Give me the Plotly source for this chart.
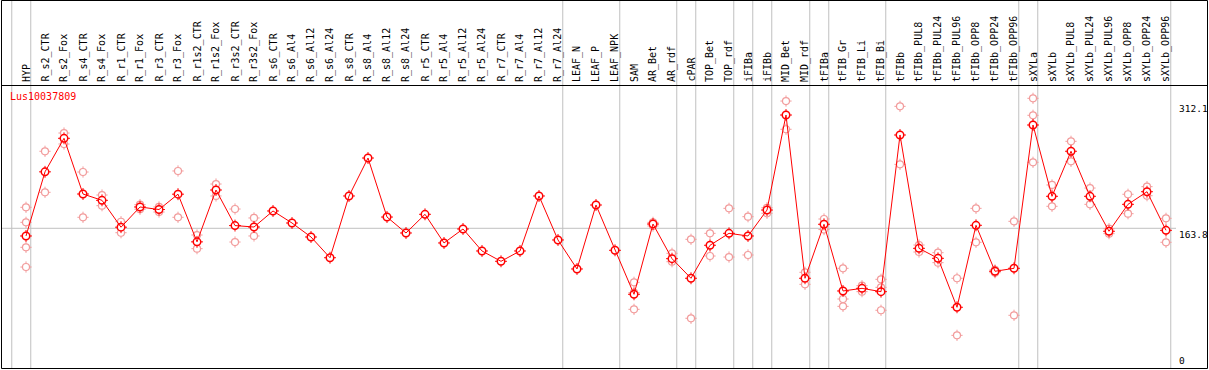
import plotly.graph_objects as go

categories = ["HYP", "R_s2_CTR", "R_s2_Fox", "R_s4_CTR", "R_s4_Fox", "R_r1_CTR", "R_r1_Fox",
              "R_r3_CTR", "R_r3_Fox", "R_r1s2_CTR", "R_r1s2_Fox", "R_r3s2_CTR", "R_r3s2_Fox",
              "R_s6_CTR", "R_s6_Al4", "R_s6_Al12", "R_s6_Al24", "R_s8_CTR", "R_s8_Al4", "R_s8_Al12",
              "R_s8_Al24", "R_r5_CTR", "R_r5_Al4", "R_r5_Al12", "R_r5_Al24", "R_r7_CTR", "R_r7_Al4",
              "R_r7_Al12", "R_r7_Al24", "LEAF_N", "LEAF_P", "LEAF_NPK", "SAM", "AR_Bet", "AR_rdf",
              "cPAR", "TOP_Bet", "TOP_rdf", "iFIBa", "iFIBb", "MID_Bet", "MID_rdf", "tFIBa",
              "tFIB_Gr", "tFIB_Li", "tFIB_Bi", "tFIBb", "tFIBb_PUL8", "tFIBb_PUL24", "tFIBb_PUL96",
              "tFIBb_OPP8", "tFIBb_OPP24", "tFIBb_OPP96", "sXYLa", "sXYLb", "sXYLb_PUL8",
              "sXYLb_PUL24", "sXYLb_PUL96", "sXYLb_OPP8", "sXYLb_OPP24", "sXYLb_OPP96"]

means = [154.8, 230.0, 269.3, 204.0, 196.6, 165.1, 188.8, 185.8, 203.8, 147.9, 208.7, 167.0,
         165.3, 184.1, 170.0, 153.6, 129.3, 201.7, 246.2, 177.0, 158.3, 180.2, 146.6, 163.0,
         137.2, 125.1, 137.2, 201.7, 150.1, 116.1, 191.1, 138.0, 86.4, 168.8, 128.2, 105.2,
         143.9, 157.9, 154.8, 185.2, 296.6, 105.2, 168.5, 90.3, 93.4, 89.5, 273.2, 140.3,
         128.6, 71.2, 167.3, 113.4, 116.9, 284.9, 201.3, 254.1, 201.3, 160.3, 191.9, 206.7, 161.4]

replicates = [[188.4, 170.8, 141.5, 118.4], [254.1, 206.0], [275.5, 262.6], [229.8, 176.7],
              [202.8, 190.3], [171.5, 158.6], [191.5, 186.1], [188.8, 182.9], [231.0, 176.7],
              [155.9, 139.9], [215.7, 201.7], [186.4, 147.7], [175.9, 154.8],
              [], [], [], [], [], [], [], [], [], [], [], [], [], [], [], [], [], [], [],
              [100.5, 88.3, 68.8], [170.8, 166.5], [134.5, 124.6], [150.9, 58.3],
              [157.9, 131.3], [187.2, 130.1], [177.4, 132.5], [187.9, 181.4], [313.0, 279.9],
              [112.2, 98.1], [174.7, 162.3], [116.9, 80.9, 72.3], [96.5, 89.5],
              [104.0, 94.6, 67.7], [306.8, 238.8], [144.2, 136.0], [135.2, 123.5],
              [105.2, 38.3], [187.2, 147.4], [111.7, 115.0], [172.0, 61.8],
              [316.2, 296.3, 241.2], [214.6, 189.6], [265.8, 242.3], [211.0, 191.9],
              [163.3, 157.5], [203.7, 180.9], [212.6, 202.0], [175.5, 147.4]]

gene = "Lus10037809"
y_max_label = 312.1
y_mid_label = 163.8
group_ends = [-1, 0, 28, 31, 34, 35, 37, 38, 39, 41, 42, 45, 52, 53, 60]

W, H = 1209, 370
X0, DX = 26.0, 19.0          # pixel of first category, spacing
K, YB = 0.8529, 368.0         # px per unit, pixel of zero

def xd(px):
    return (px - X0) / DX

def yd(py):
    return (YB - py) / K

idx = list(range(len(categories)))
rx, ry = [], []
for i, reps in enumerate(replicates):
    for v in reps:
        rx.append(i)
        ry.append(v)

RED = "#FF0000"
PINK = "#F29C9C"

fig = go.Figure()
# replicate markers
fig.add_trace(go.Scatter(x=rx, y=ry, mode="markers", hoverinfo="skip",
                         marker=dict(symbol="cross-thin-open", size=8, color=PINK,
                                     line=dict(color=PINK, width=1))))
fig.add_trace(go.Scatter(x=rx, y=ry, mode="markers", hoverinfo="skip",
                         marker=dict(symbol="circle", size=7, color="white", line=dict(color=PINK, width=1.2))))
# mean markers
fig.add_trace(go.Scatter(x=idx, y=means, mode="markers", hoverinfo="skip",
                         marker=dict(symbol="cross-thin-open", size=8.5, color=RED,
                                     line=dict(color=RED, width=1))))
fig.add_trace(go.Scatter(x=idx, y=means, mode="markers", hoverinfo="skip",
                         marker=dict(symbol="circle", size=7, color="white", line=dict(width=0))))
fig.add_trace(go.Scatter(x=idx, y=means, mode="lines", hoverinfo="skip",
                         line=dict(color=RED, width=1)))
fig.add_trace(go.Scatter(x=idx, y=means, mode="markers", hoverinfo="skip",
                         marker=dict(symbol="circle-open", size=7.5, color=RED,
                                     line=dict(color=RED, width=1.5))))

shapes = []
# separators
for g in group_ends:
    xs = g + 0.25
    shapes.append(dict(type="line", xref="x", yref="y", x0=xs, x1=xs, y0=yd(0), y1=yd(368),
                       line=dict(color="#C0C0C0", width=1), layer="below"))
# mid horizontal line
shapes.append(dict(type="line", xref="x", yref="y", x0=xd(1), x1=xd(1176), y0=y_mid_label, y1=y_mid_label,
                   line=dict(color="#C0C0C0", width=1), layer="below"))
# borders
shapes.append(dict(type="rect", xref="x", yref="y", x0=xd(1.5), x1=xd(1207.5), y0=yd(0.5), y1=yd(368.5),
                   line=dict(color="black", width=1), layer="above"))
shapes.append(dict(type="line", xref="x", yref="y", x0=xd(1.5), x1=xd(1207.5), y0=yd(85.5), y1=yd(85.5),
                   line=dict(color="black", width=1), layer="above"))

FONT = "DejaVu Sans Mono"
ann = []
for i, c in enumerate(categories):
    ann.append(dict(x=i, y=yd(83), xref="x", yref="y", text=c, textangle=-90, showarrow=False,
                    xanchor="center", yanchor="bottom", font=dict(family=FONT, size=10, color="black"),
                    borderpad=0))
ann.append(dict(x=xd(9), y=yd(90), xref="x", yref="y", text=gene, showarrow=False,
                xanchor="left", yanchor="top", font=dict(family=FONT, size=10, color=RED), borderpad=0))
ann.append(dict(x=xd(1178), y=y_max_label, xref="x", yref="y", text=f"{y_max_label}", showarrow=False,
                xanchor="left", yanchor="top", font=dict(family=FONT, size=9.5, color="black"), borderpad=0))
ann.append(dict(x=xd(1178), y=y_mid_label, xref="x", yref="y", text=f"{y_mid_label}", showarrow=False,
                xanchor="left", yanchor="top", font=dict(family=FONT, size=9.5, color="black"), borderpad=0))
ann.append(dict(x=xd(1178), y=yd(367), xref="x", yref="y", text="0", showarrow=False,
                xanchor="left", yanchor="bottom", font=dict(family=FONT, size=9.5, color="black"), borderpad=0))

fig.update_layout(width=W, height=H, margin=dict(l=0, r=0, t=0, b=0),
                  paper_bgcolor="white", plot_bgcolor="white", showlegend=False,
                  xaxis=dict(range=[xd(0), xd(W)], visible=False, fixedrange=True),
                  yaxis=dict(range=[yd(H), yd(0)], visible=False, fixedrange=True),
                  shapes=shapes, annotations=ann)

fig.write_html("out.html", config={"displayModeBar": False},
               post_script="document.body.style.margin='0';document.body.style.padding='0';"
                           "document.body.style.overflow='hidden';")
